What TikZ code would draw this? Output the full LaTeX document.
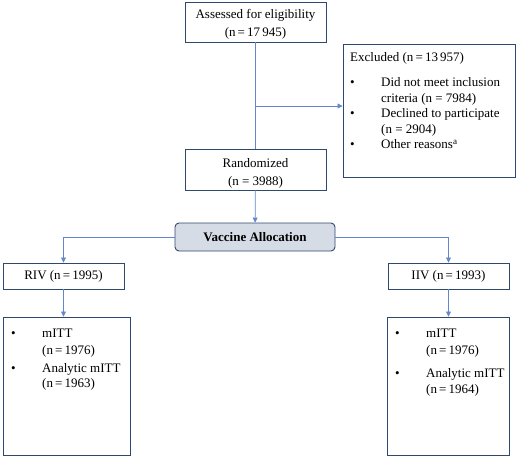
\documentclass[tikz,border=0pt]{standalone}
\usepackage{fontspec}
\setmainfont{Liberation Serif}
\usetikzlibrary{arrows.meta,positioning,calc}
\definecolor{boxblue}{RGB}{47,72,110}
\definecolor{lineblue}{RGB}{100,135,200}
\definecolor{allocfill}{RGB}{214,220,229}
\tikzset{
  box/.style={draw=boxblue, line width=0.9pt, align=center, inner sep=0pt},
  flow/.style={draw=lineblue, line width=0.7pt, -{Triangle[length=5pt,width=5pt]}},
  txt/.style={anchor=base west, inner sep=0pt}
}
\begin{document}
\begin{tikzpicture}[x=1pt,y=-1pt, font=\fontsize{13}{18}\selectfont]
\useasboundingbox (0,0) rectangle (520,458);
\node[box, minimum width=141pt, minimum height=40pt] (assess) at (255.5,22) {\rule{0pt}{14pt}Assessed for eligibility\\(n\,=\,17\,945)};
\node[box, minimum width=172pt, minimum height=133pt] (excl) at (429,110.5) {};
\node[box, minimum width=141pt, minimum height=41pt] (rand) at (255.5,169.5) {\rule{0pt}{17pt}Randomized\\(n = 3988)};
\node[box, fill=allocfill, rounded corners=4pt, minimum width=160pt, minimum height=28pt] (alloc) at (255,237) {\textbf{Vaccine Allocation}};
\node[box, minimum width=121pt, minimum height=26pt] (riv) at (63.5,276) {RIV (n\,=\,1995)};
\node[box, minimum width=121pt, minimum height=26pt] (iiv) at (448.5,276) {IIV (n\,=\,1993)};
\node[box, minimum width=127pt, minimum height=138pt] (lres) at (66.5,386) {};
\node[box, minimum width=122pt, minimum height=138pt] (rres) at (448,386) {};

%excluded list
\node[txt] (exhead) at (350,61.5) {Excluded (n\,=\,13\,957)};
\node[txt] (exb1) at (350,86.5) {\textbullet};
\node[txt] (ex1a) at (381,86.5) {Did not meet inclusion};
\node[txt] (ex1b) at (381,102.5) {criteria (n = 7984)};
\node[txt] (exb2) at (350,117.5) {\textbullet};
\node[txt] (ex2a) at (381,117.5) {Declined to participate};
\node[txt] (ex2b) at (381,133.5) {(n = 2904)};
\node[txt] (exb3) at (350,148.5) {\textbullet};
\node[txt] (ex3a) at (381,148.5) {Other reasons\textsuperscript{a}};

%left results
\node[txt] (lb1) at (11,337.5) {\textbullet};
\node[txt] (l1a) at (42,337.5) {mITT};
\node[txt] (l1b) at (42,354.5) {(n\,=\,1976)};
\node[txt] (lb2) at (11,372.5) {\textbullet};
\node[txt] (l2a) at (42,372.5) {Analytic mITT};
\node[txt] (l2b) at (42,387.5) {(n\,=\,1963)};

%right results
\node[txt] (rb1) at (395,337.5) {\textbullet};
\node[txt] (r1a) at (426,337.5) {mITT};
\node[txt] (r1b) at (426,354.5) {(n\,=\,1976)};
\node[txt] (rb2) at (395,377.5) {\textbullet};
\node[txt] (r2a) at (426,377.5) {Analytic mITT};
\node[txt] (r2b) at (426,393.5) {(n\,=\,1964)};

\coordinate (split) at (255.5,106);
\draw[flow, -] (assess) -- (rand);
\draw[flow] (split) -- (split -| excl.west);
\draw[flow] (rand) -- (alloc);
\draw[flow] (alloc.west) -| (riv.north);
\draw[flow] (alloc.east) -| (iiv.north);
\draw[flow] (riv.south) -- (riv.south |- lres.north);
\draw[flow] (iiv.south) -- (iiv.south |- rres.north);
\end{tikzpicture}
\end{document}
